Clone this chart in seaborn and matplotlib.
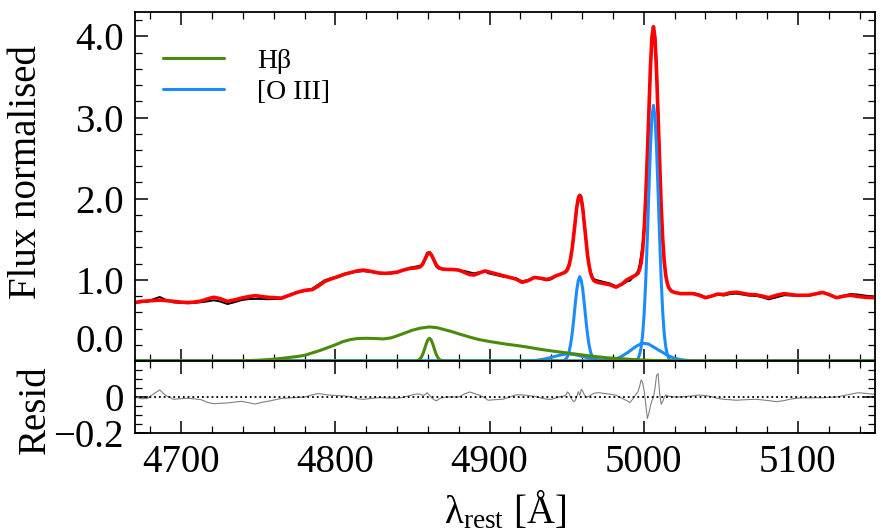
import numpy as np
import matplotlib
matplotlib.use("Agg")
import matplotlib.pyplot as plt
from matplotlib.ticker import MultipleLocator, FixedLocator, FixedFormatter
import seaborn as sns

# wavelength grid [A], best fit (red) and residual
wave = [4670, 4674, 4678, 4682, 4686, 4690, 4695, 4700, 4704, 4708, 4713, 4717, 4721, 4725,
        4730, 4735, 4739, 4744, 4748, 4752, 4756, 4761, 4765, 4770, 4775, 4780, 4785, 4789,
        4793, 4797, 4801, 4806, 4810, 4814, 4818, 4823, 4828, 4832, 4836, 4840, 4844, 4848,
        4851, 4853, 4855, 4856.5, 4858, 4859.5, 4861, 4862.5, 4864, 4865.5, 4867, 4869, 4872,
        4876, 4880, 4884, 4887, 4890, 4894, 4897, 4899, 4902, 4905, 4909, 4913, 4917, 4921,
        4925, 4929, 4933, 4937, 4940, 4943, 4946, 4948.5, 4949.5, 4950.5, 4951.5, 4952.5,
        4953.5, 4954.5, 4955.5, 4956.5, 4957.5, 4958.5, 4959.5, 4960.5, 4961.5, 4962.5,
        4963.5, 4964.5, 4965.5, 4966.5, 4967.5, 4968.5, 4971, 4974, 4978, 4982, 4986, 4989,
        4991, 4993, 4995, 4996.3, 4997.3, 4998.3, 4999.3, 5000.3, 5001.3, 5002.3, 5003.3,
        5004.3, 5005.3, 5006.3, 5007.3, 5008.3, 5009.3, 5010.3, 5011.3, 5012.3, 5013.3,
        5014.3, 5015.3, 5016.3, 5018, 5020, 5024, 5028, 5032, 5036, 5040, 5044, 5048, 5052,
        5056, 5060, 5064, 5068, 5073, 5077, 5081, 5086, 5091, 5095, 5099, 5103, 5107, 5111,
        5116, 5120, 5125, 5130, 5134, 5139, 5144, 5150]

flux_fit = [0.72, 0.735, 0.74, 0.745, 0.75, 0.745, 0.735, 0.725, 0.72, 0.725, 0.74, 0.765, 0.785, 0.77,
            0.735, 0.755, 0.775, 0.795, 0.805, 0.795, 0.785, 0.78, 0.775, 0.81, 0.845, 0.87, 0.88, 0.925,
            0.98, 1.01, 1.035, 1.07, 1.09, 1.11, 1.12, 1.105, 1.085, 1.08, 1.085, 1.095, 1.12, 1.14,
            1.145, 1.15, 1.16, 1.19, 1.25, 1.31, 1.335, 1.30, 1.24, 1.18, 1.15, 1.135, 1.128,
            1.128, 1.12, 1.09, 1.065, 1.06, 1.09, 1.11, 1.10, 1.085, 1.07, 1.05, 1.03, 1.01, 0.97,
            0.99, 1.03, 1.02, 1.005, 1.02, 1.05, 1.07, 1.09, 1.10, 1.125, 1.175, 1.26,
            1.38, 1.54, 1.72, 1.89, 2.0, 2.04, 1.99, 1.865, 1.68, 1.485,
            1.31, 1.18, 1.085, 1.03, 0.995, 0.98, 0.965, 0.955, 0.94, 0.91, 0.95, 1.0,
            1.02, 1.04, 1.06, 1.08, 1.13, 1.21, 1.37, 1.64, 2.03, 2.52, 3.08,
            3.61, 3.99, 4.12, 3.97, 3.56, 3.01, 2.43, 1.91, 1.50, 1.22,
            1.05, 0.955, 0.90, 0.86, 0.845, 0.83, 0.83, 0.83, 0.81, 0.78, 0.80, 0.825, 0.82,
            0.84, 0.848, 0.835, 0.82, 0.815, 0.80, 0.78, 0.81, 0.83, 0.82, 0.81, 0.81, 0.81, 0.825,
            0.845, 0.82, 0.78, 0.80, 0.81, 0.795, 0.785, 0.78]

resid = [0.0, -0.01, -0.008, 0.017, 0.039, 0.008, -0.013, -0.009, -0.007, -0.01, -0.015, -0.03, -0.037, -0.035,
         -0.033, -0.028, -0.024, -0.032, -0.039, -0.03, -0.024, -0.015, -0.008, -0.005, -0.003, 0.0, 0.012, 0.019,
         0.014, 0.01, 0.008, 0.006, 0.0, -0.01, -0.013, -0.008, -0.004, -0.005, -0.006, -0.007, -0.002, 0.008,
         0.014, 0.017, 0.015, 0.01, 0.012, 0.024, 0.01, -0.005, -0.015, -0.022, -0.012, -0.004, 0.0,
         0.0, 0.0, 0.018, 0.028, 0.02, 0.008, -0.005, -0.018, -0.016, -0.014, -0.012, 0.0, 0.012, 0.012,
         0.008, 0.004, -0.005, -0.012, -0.013, -0.005, 0.002, 0.006, 0.012, 0.028, 0.02, 0.0,
         -0.015, -0.026, -0.02, 0.0, 0.03, 0.01, 0.043, 0.03, 0.012, 0.002,
         0.0, 0.005, 0.01, 0.015, 0.02, 0.022, 0.024, 0.02, 0.016, 0.01, -0.008, -0.02,
         -0.031, -0.01, 0.015, 0.03, 0.06, 0.095, 0.08, 0.03, -0.04, -0.12, -0.09,
         -0.05, -0.02, 0.0, 0.05, 0.12, 0.13, 0.02, -0.04, -0.025, 0.0,
         0.011, 0.008, 0.004, 0.002, 0.0, 0.0, 0.003, 0.007, 0.011, 0.008, 0.002, -0.008, -0.013,
         -0.015, -0.018, -0.016, -0.014, -0.013, -0.016, -0.02, -0.026, -0.02, -0.012, -0.007, -0.005, -0.005, -0.004,
         -0.004, -0.002, 0.0, 0.008, 0.015, 0.024, 0.02, 0.015]

# H-beta components
hb_broad_wave = [4670, 4730, 4740, 4750, 4760, 4767, 4775, 4780, 4785, 4790, 4795, 4800, 4805, 4810,
                 4815, 4820, 4825, 4831, 4836, 4840, 4845, 4850, 4855, 4861, 4866, 4870, 4875, 4880,
                 4887, 4893, 4900, 4910, 4918, 4925, 4931, 4938, 4946, 4954, 4962, 4970, 4976, 4985,
                 4992, 4998, 5005, 5017, 5030, 5150]
hb_broad_flux = [0, 0, 0.003, 0.01, 0.022, 0.037, 0.055, 0.07, 0.10, 0.13, 0.165, 0.20, 0.24, 0.265,
                 0.278, 0.28, 0.278, 0.272, 0.285, 0.31, 0.345, 0.38, 0.405, 0.42, 0.41, 0.39, 0.365, 0.335,
                 0.295, 0.265, 0.24, 0.21, 0.19, 0.17, 0.15, 0.13, 0.11, 0.09, 0.07, 0.052, 0.04, 0.028,
                 0.02, 0.014, 0.008, 0.003, 0, 0]
hb_narrow_wave = [4670, 4852, 4853, 4854, 4855, 4856, 4857, 4858, 4859, 4860, 4861, 4862, 4863, 4864,
                  4865, 4866, 4867, 4868, 4869, 4870, 5150]
hb_narrow_flux = [0, 0, 0.005, 0.012, 0.028, 0.057, 0.101, 0.158, 0.218, 0.263, 0.28, 0.263, 0.218, 0.158,
                  0.101, 0.057, 0.028, 0.012, 0.005, 0, 0]

# [O III] components
o3_broad_wave = [4670, 4925, 4930, 4935, 4940, 4945, 4950, 4955, 4960, 4965, 4970, 4975, 4980, 4985,
                 4990, 4995, 4999, 5003, 5007, 5011, 5015, 5019, 5024, 5030, 5035, 5150]
o3_broad_flux = [0, 0, 0.008, 0.022, 0.045, 0.07, 0.088, 0.08, 0.058, 0.033, 0.016, 0.008, 0.012, 0.05,
                 0.11, 0.18, 0.22, 0.21, 0.165, 0.12, 0.075, 0.04, 0.017, 0.004, 0, 0]
o3_4959_wave = [4670, 4947.5, 4948.5, 4949.5, 4950.5, 4951.5, 4952.5, 4953.5, 4954.5, 4955.5, 4956.5,
                4957.5, 4958.5, 4959.5, 4960.5, 4961.5, 4962.5, 4963.5, 4964.5, 4965.5, 4966.5,
                4967.5, 4968.5, 4969.5, 5150]
o3_4959_flux = [0, 0, 0.01, 0.025, 0.055, 0.11, 0.20, 0.33, 0.50, 0.69, 0.87,
                0.99, 1.04, 0.99, 0.87, 0.69, 0.50, 0.33, 0.20, 0.11, 0.055,
                0.025, 0.01, 0, 0]
o3_5007_wave = [4670, 4995.3, 4996.3, 4997.3, 4998.3, 4999.3, 5000.3, 5001.3, 5002.3, 5003.3, 5004.3,
                5005.3, 5006.3, 5007.3, 5008.3, 5009.3, 5010.3, 5011.3, 5012.3, 5013.3, 5014.3,
                5015.3, 5016.3, 5017.3, 5150]
o3_5007_flux = [0, 0, 0.03, 0.08, 0.17, 0.33, 0.60, 1.00, 1.51, 2.08, 2.62,
                3.01, 3.15, 3.01, 2.62, 2.08, 1.51, 1.00, 0.60, 0.33, 0.17,
                0.08, 0.03, 0, 0]

green = "#4a8a0c"
blue = "#1a8cff"

sns.set_theme(style="ticks")
plt.rcParams["font.family"] = ["Liberation Serif", "DejaVu Serif"]
plt.rcParams["mathtext.fontset"] = "custom"
plt.rcParams["mathtext.rm"] = "Liberation Serif"
plt.rcParams["mathtext.it"] = "Liberation Serif:italic"
for k in ["text.color", "axes.labelcolor", "xtick.color", "ytick.color", "axes.edgecolor"]:
    plt.rcParams[k] = "black"

fig = plt.figure(figsize=(8.86, 5.32), dpi=100)
ax1 = fig.add_axes([0.1524, 0.3214, 0.8352, 0.656])
ax2 = fig.add_axes([0.1524, 0.1861, 0.8352, 0.1353], sharex=ax1)

flux_data = np.array(flux_fit) + np.array(resid)

kw = dict(estimator=None, sort=False, legend=False)
sns.lineplot(x=wave, y=flux_data, ax=ax1, color="black", lw=1.4, **kw)
sns.lineplot(x=wave, y=flux_fit, ax=ax1, color="red", lw=2.6, **kw)
sns.lineplot(x=o3_broad_wave, y=o3_broad_flux, ax=ax1, color=blue, lw=2.2, **kw)
sns.lineplot(x=o3_4959_wave, y=o3_4959_flux, ax=ax1, color=blue, lw=2.2, **kw)
sns.lineplot(x=o3_5007_wave, y=o3_5007_flux, ax=ax1, color=blue, lw=2.2, **kw)
sns.lineplot(x=hb_broad_wave, y=hb_broad_flux, ax=ax1, color=green, lw=2.2, **kw)
sns.lineplot(x=hb_narrow_wave, y=hb_narrow_flux, ax=ax1, color=green, lw=2.2, **kw)

# legend proxies
ax1.plot([], [], color=green, lw=2.2, label="Hβ")
ax1.plot([], [], color=blue, lw=2.2, label="[O III]")
ax1.legend(loc="upper left", bbox_to_anchor=(0.0, 0.975), frameon=False, fontsize=20,
           handlelength=2.2, handletextpad=1.2, labelspacing=0.2, borderaxespad=0.6)

ax1.set_xlim(4670, 5150)
ax1.set_ylim(0, 4.3)
ax1.yaxis.set_major_locator(FixedLocator([0, 1, 2, 3, 4]))
ax1.yaxis.set_major_formatter(FixedFormatter(["0.0", "1.0", "2.0", "3.0", "4.0"]))
ax1.yaxis.set_minor_locator(MultipleLocator(0.2))
ax1.xaxis.set_major_locator(MultipleLocator(100))
ax1.xaxis.set_minor_locator(MultipleLocator(20))
ax1.set_ylabel("Flux normalised", fontsize=28)
ax1.yaxis.set_label_coords(-0.121, 0.54)

sns.lineplot(x=wave, y=resid, ax=ax2, color="gray", lw=0.8, **kw)
ax2.axhline(0, color="black", ls=":", lw=1.3)
ax2.set_ylim(-0.2, 0.2)
ax2.yaxis.set_major_locator(FixedLocator([-0.2, 0, 0.2]))
ax2.yaxis.set_major_formatter(FixedFormatter(["\u22120.2", "0", ""]))
ax2.yaxis.set_minor_locator(MultipleLocator(0.05))
ax2.set_ylabel("Resid", fontsize=28)
ax2.yaxis.set_label_coords(-0.11, 0.33)
ax2.set_xlabel(r"$\mathrm{\lambda_{rest}}$ [Å]", fontsize=28, labelpad=6)

for ax in (ax1, ax2):
    ax.tick_params(which="both", direction="in", top=True, right=True, labelsize=28,
                   color="black", pad=8)
    ax.tick_params(which="major", length=9, width=1.1)
    ax.tick_params(which="minor", length=5, width=0.9)
    for s in ax.spines.values():
        s.set_linewidth(1.3)
        s.set_color("black")
ax1.tick_params(labelbottom=False)

fig.canvas.draw()
ax1.yaxis.get_major_ticks()[0].label1.set_verticalalignment("bottom")

fig.savefig("out.png", dpi=100)
